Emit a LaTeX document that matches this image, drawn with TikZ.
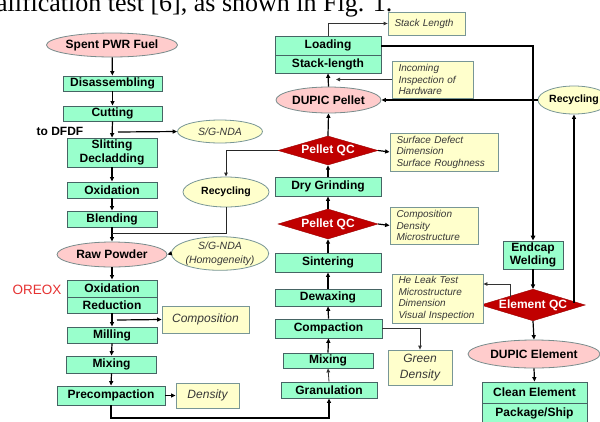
\documentclass[tikz,border=0pt]{standalone}
\usepackage{fontspec}
\setmainfont{Liberation Sans}
\newfontfamily\serifcap{Liberation Serif}
\usetikzlibrary{shapes.geometric,arrows.meta,calc}
\definecolor{boxgreen}{RGB}{153,255,204}
\definecolor{boxline}{RGB}{70,100,100}
\definecolor{pinkfill}{RGB}{255,204,204}
\definecolor{pinkline}{RGB}{120,140,140}
\definecolor{yelfill}{RGB}{255,255,204}
\definecolor{yelline}{RGB}{120,150,150}
\definecolor{qcred}{RGB}{192,0,0}
\definecolor{txtgrey}{RGB}{55,55,55}
\definecolor{oreoxred}{RGB}{230,50,50}
\tikzset{
 proc/.style={draw=boxline, fill=boxgreen, line width=0.8pt, inner sep=0pt, font=\bfseries\fontsize{12}{13.5}\selectfont, align=center, text=black},
 term/.style={ellipse, draw=pinkline, fill=pinkfill, line width=0.8pt, inner sep=0pt, font=\bfseries\fontsize{12}{13.5}\selectfont},
 yel/.style={ellipse, draw=yelline, fill=yelfill, line width=0.8pt, inner sep=0pt, font=\itshape\fontsize{10.5}{14}\selectfont, align=center, text=txtgrey},
 yelb/.style={ellipse, draw=yelline, fill=yelfill, line width=0.8pt, inner sep=0pt, font=\bfseries\fontsize{10.5}{13}\selectfont},
 note/.style={draw=yelline, fill=yelfill, line width=0.8pt, inner xsep=6.5pt, inner ysep=0pt, font=\itshape\fontsize{10}{11.5}\selectfont, align=left, text=txtgrey},
 bignote/.style={draw=yelline, fill=yelfill, line width=0.8pt, inner sep=0pt, font=\itshape\fontsize{12}{15.5}\selectfont, align=center, text=txtgrey},
 qc/.style={diamond, draw=qcred!80!black, fill=qcred, inner sep=0pt, shape aspect=3.3, font=\bfseries\fontsize{12}{13}\selectfont, text=white},
 flow/.style={line width=1.2pt, -{Triangle[length=4.5pt,width=4pt]}},
 thinflow/.style={line width=0.8pt, draw=black!80, -{Triangle[length=4pt,width=3.5pt]}},
 heavy/.style={line width=2pt, -{Triangle[length=5pt,width=4.5pt]}},
 plain/.style={line width=1pt, draw=black!85},
}
\begin{document}
\begin{tikzpicture}[x=1pt,y=-1pt]
\useasboundingbox (0,0) rectangle (600,421);
\clip (0,0) rectangle (600,421);
\fill[white] (0,0) rectangle (600,421);
\node[anchor=base east, font=\serifcap\fontsize{26}{26}\selectfont] (cap) at (396,11.5) {qualification test [6], as shown in Fig. 1.};

% left column
\node[term, minimum width=110pt, minimum height=24pt] (fuel) at (112,45) {Spent PWR Fuel};
\node[proc, minimum width=99pt, minimum height=15pt] (dis) at (112.5,83.5) {Disassembling};
\node[proc, minimum width=99pt, minimum height=15pt] (cut) at (112.5,113.5) {Cutting};
\node[font=\bfseries\fontsize{12}{13}\selectfont] (dfdf) at (60,131) {to DFDF};
\node[yel, minimum width=85pt, minimum height=23pt] (sg1) at (220,131.5) {S/G-NDA};
\node[proc, minimum width=90pt, minimum height=29pt] (slit) at (112,152.5) {Slitting\\Decladding};
\node[proc, minimum width=90pt, minimum height=16pt] (oxi) at (112,190) {Oxidation};
\node[proc, minimum width=90pt, minimum height=16pt] (blend) at (112,219) {Blending};
\node[yelb, minimum width=86pt, minimum height=30pt] (rec1) at (226,192) {Recycling};
\node[term, minimum width=110pt, minimum height=25pt] (raw) at (112,254.5) {Raw Powder};
\node[yel, minimum width=95pt, minimum height=27pt] (sg2) at (220,253.5) {S/G-NDA\\(Homogeneity)};
\node[proc, minimum width=90pt, minimum height=17pt] (ox2) at (112,288.5) {Oxidation};
\node[proc, minimum width=90pt, minimum height=16pt] (red) at (112,305) {Reduction};
\node[text=oreoxred, font=\fontsize{13.5}{14}\selectfont] (oreox) at (37,290) {OREOX};
\node[bignote, minimum width=87pt, minimum height=27pt] (comp1) at (205.5,319.5) {Composition};
\node[proc, minimum width=90pt, minimum height=16pt] (mill) at (112,335) {Milling};
\node[proc, minimum width=90pt, minimum height=17pt] (mix1) at (111.5,364.5) {Mixing};
\node[proc, minimum width=108pt, minimum height=19pt] (precomp) at (111,395.5) {Precompaction};
\node[bignote, minimum width=63pt, minimum height=25pt] (dens) at (207.5,395.5) {Density};

% middle column
\node[proc, minimum width=96pt, minimum height=16pt] (gran) at (329,390) {Granulation};
\node[proc, minimum width=90pt, minimum height=15pt] (mix2) at (328,360.5) {Mixing};
\node[proc, minimum width=107pt, minimum height=19pt] (compa) at (328.5,328.5) {Compaction};
\node[bignote, minimum width=64pt, minimum height=35pt] (green) at (420,367.5) {Green\\Density};
\node[proc, minimum width=106pt, minimum height=17pt] (dewax) at (328,297.5) {Dewaxing};
\node[proc, minimum width=106pt, minimum height=19pt] (sinter) at (328,262.5) {Sintering};
\node[qc, minimum width=100pt, minimum height=30pt] (qc2) at (328,224) {Pellet QC};
\node[note, text width=75pt, minimum height=37pt] (cdm) at (434,225.5) {Composition\\Density\\Microstructure};
\node[proc, minimum width=106pt, minimum height=19pt] (dry) at (328,186.5) {Dry Grinding};
\node[qc, minimum width=100pt, minimum height=29pt] (qc1) at (328,150.5) {Pellet QC};
\node[note, text width=95pt, minimum height=38pt] (sdd) at (444,152) {Surface Defect\\Dimension\\Surface Roughness};
\node[term, minimum width=105pt, minimum height=26pt] (pellet) at (328.5,100) {DUPIC Pellet};
\node[proc, minimum width=106pt, minimum height=19pt] (load) at (328,45.5) {Loading};
\node[proc, minimum width=106pt, minimum height=18pt] (stack) at (328,64) {Stack-length};
\node[note, text width=64pt, minimum height=23pt] (stackL) at (426.5,23.5) {Stack Length};
\node[note, text width=68pt, minimum height=37pt] (incoming) at (432.5,79.5) {Incoming\\Inspection of\\Hardware};

% right column
\node[yelb, minimum width=72pt, minimum height=28pt] (rec2) at (574,100) {Recycling};
\node[proc, minimum width=60pt, minimum height=28pt] (endcap) at (533,255) {Endcap\\Welding};
\node[qc, minimum width=100pt, minimum height=30pt] (eqc) at (533,305) {Element QC};
\node[note, text width=78pt, minimum height=49pt] (heleak) at (437.5,298.5) {He Leak Test\\Microstructure\\Dimension\\Visual Inspection};
\node[term, minimum width=132pt, minimum height=28pt] (delem) at (534,354) {DUPIC Element};
\node[proc, minimum width=105pt, minimum height=21pt] (clean) at (534.5,392.5) {Clean Element};
\node[proc, minimum width=105pt, minimum height=21pt] (pack) at (534.5,413.5) {Package/Ship};

% helper coordinates
\coordinate (b1) at (118,132);
\coordinate (b2) at (117,320);
\coordinate (j1) at (112,233);
\coordinate (bot) at (200,418);
\coordinate (eL) at (510,297);
\coordinate (eL2) at (510,284);
\coordinate (eR) at (574,302.7);
\coordinate (inA) at (336,79.5);

% left flow
\draw[flow] (fuel) -- (dis);
\draw[flow] (dis) -- (cut);
\draw[flow] (cut.south) -- (slit.north);
\draw[flow] (b1) -- (sg1.west);
\draw[flow] (slit) -- (oxi);
\draw[flow] (oxi) -- (blend);
\draw[flow] (blend.south) -- (raw.north);
\draw[-{Triangle[length=4pt,width=3.5pt]}, line width=1pt, draw=black!85] (qc1.west) -| (rec1.north);
\draw[plain] (rec1.south) |- (j1);
\draw[flow] (sg2.west) -- (raw.east);
\draw[flow] (raw.south) -- (ox2.north);
\draw[flow] (red.south) -- (mill.north);
\draw[flow] (b2) -- (comp1.west);
\draw[flow] (mill.south) -- (mix1.north);
\draw[flow] (mix1.south) -- (precomp.north);
\draw[flow] (precomp.east) -- (dens.west);
\draw[flow] (precomp.south) |- (bot) -| (gran.south);

% middle flow
\draw[thinflow] (gran.north) -- (mix2.south);
\draw[flow] (mix2.north) -- (compa.south);
\draw[thinflow] (compa.east) -| (green.north);
\draw[flow] (compa.north) -- (dewax.south);
\draw[flow] (dewax.north) -- (sinter.south);
\draw[flow] (sinter.north) -- (qc2.south);
\draw[flow] (qc2.east) -- (cdm.west);
\draw[flow] (qc2.north) -- (dry.south);
\draw[flow] (dry.north) -- (qc1.south);
\draw[flow] (qc1.east) -- (sdd.west);
\draw[flow] (qc1.north) -- (pellet.south);
\draw[flow] (pellet.north) -- (stack.south);
\draw[thinflow] (incoming.west) -- (inA);
\draw[thinflow] (load.north) |- (stackL.west);
\draw[heavy] (load.east) -| (endcap.north);

% right flow
\draw[flow] (rec2.west) -- (pellet.east);
\draw[flow] (endcap.south) -- (eqc.north);
\draw[thinflow] (eL) -- (eL2) -- (eL2 -| heleak.east);
\draw[flow] (eR) -- (rec2.south);
\draw[flow] (eqc.south) -- (delem.north);
\draw[flow] (delem.south) -- (clean.north);
\end{tikzpicture}
\end{document}
